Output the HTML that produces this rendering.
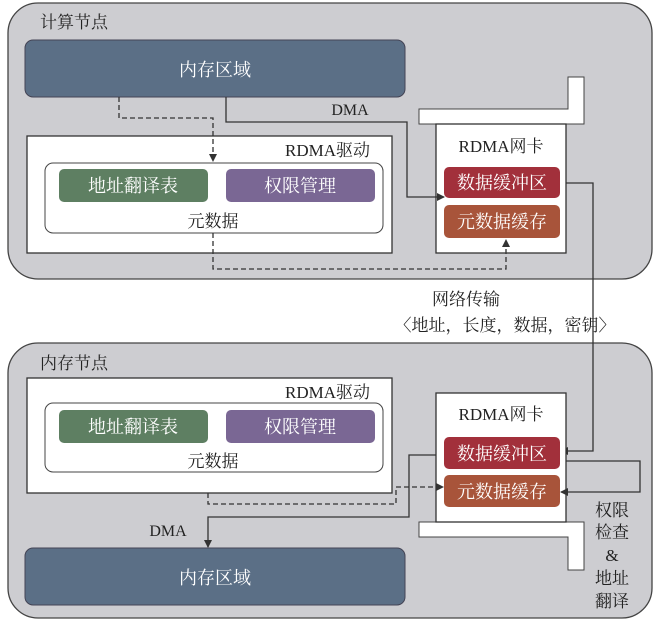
<!DOCTYPE html>
<html><head><meta charset="utf-8"><style>
body{margin:0;background:#fff}
svg text{font-family:"Liberation Serif","Noto Serif CJK SC",serif}
</style></head><body>
<svg width="654" height="621" viewBox="0 0 654 621" xmlns="http://www.w3.org/2000/svg">
<defs><marker id="a" markerWidth="8" markerHeight="8" refX="7" refY="4" orient="auto" markerUnits="userSpaceOnUse"><path d="M0,0 L8,4 L0,8 z" fill="#333"/></marker></defs>
<g stroke="#444" stroke-width="1.3">
<rect x="8" y="3" width="644" height="276" rx="30" fill="#cdcdd1"/>
<rect x="8" y="343" width="644" height="275" rx="30" fill="#cdcdd1"/>
</g>
<g font-size="17" fill="#222">
<text x="40" y="28">计算节点</text>
<text x="40" y="369">内存节点</text>
</g>
<!-- top -->
<rect x="25" y="40" width="380" height="57" rx="8" fill="#5b6f86" stroke="#445"/>
<text x="215" y="76" font-size="18" fill="#fff" text-anchor="middle" font-family="Liberation Sans,Noto Sans CJK SC,sans-serif">内存区域</text>
<rect x="27" y="136" width="365" height="117" fill="#fff" stroke="#333" stroke-width="1.3"/>
<text x="370" y="156" font-size="17" fill="#222" text-anchor="end">RDMA驱动</text>
<rect x="45" y="163" width="338" height="70" rx="8" fill="#fff" stroke="#444"/>
<rect x="59" y="169" width="149" height="33" rx="5" fill="#5e7f62"/>
<rect x="226" y="169" width="149" height="33" rx="5" fill="#7a6794"/>
<g font-size="18" fill="#fff" text-anchor="middle" font-family="Liberation Sans,Noto Sans CJK SC,sans-serif">
<text x="133" y="192">地址翻译表</text><text x="300" y="192">权限管理</text></g>
<text x="213" y="227" font-size="17" fill="#222" text-anchor="middle">元数据</text>
<!-- top NIC -->
<path d="M419,109 H568 V77 H584 V124 H419 Z" fill="#fff" stroke="#444"/>
<rect x="436" y="124" width="130" height="129" fill="#fff" stroke="#333" stroke-width="1.3"/>
<text x="501" y="152" font-size="17" fill="#222" text-anchor="middle">RDMA网卡</text>
<rect x="444" y="167" width="116" height="31" rx="5" fill="#a2303b"/>
<rect x="444" y="205" width="116" height="33" rx="5" fill="#a8543a"/>
<g font-size="18" fill="#fff" text-anchor="middle" font-family="Liberation Sans,Noto Sans CJK SC,sans-serif">
<text x="502" y="189">数据缓冲区</text><text x="502" y="228">元数据缓存</text></g>
<g fill="none" stroke="#333" stroke-width="1.3">
<path d="M226,97 V122 H407 V197 H444" marker-end="url(#a)"/>
<path d="M119,97 V118 H213 V161" stroke-dasharray="5,3" marker-end="url(#a)"/>
<path d="M213,233 V269 H506 V240" stroke-dasharray="5,3" marker-end="url(#a)"/>
<path d="M566,183 H593 V451 H561" marker-end="url(#a)"/>
</g>
<text x="350" y="115" font-size="16" fill="#222" text-anchor="middle">DMA</text>
<g font-size="17" fill="#222" text-anchor="middle">
<text x="466" y="305">网络传输</text>
<text x="505" y="331">〈地址，长度，数据，密钥〉</text></g>
<!-- bottom -->
<rect x="27" y="378" width="365" height="115" fill="#fff" stroke="#333" stroke-width="1.3"/>
<text x="370" y="398" font-size="17" fill="#222" text-anchor="end">RDMA驱动</text>
<rect x="45" y="403" width="338" height="69" rx="8" fill="#fff" stroke="#444"/>
<rect x="59" y="410" width="149" height="33" rx="5" fill="#5e7f62"/>
<rect x="226" y="410" width="149" height="33" rx="5" fill="#7a6794"/>
<g font-size="18" fill="#fff" text-anchor="middle" font-family="Liberation Sans,Noto Sans CJK SC,sans-serif">
<text x="133" y="433">地址翻译表</text><text x="300" y="433">权限管理</text></g>
<text x="213" y="467" font-size="17" fill="#222" text-anchor="middle">元数据</text>
<path d="M419,522 H584 V570 H568 V537 H419 Z" fill="#fff" stroke="#444"/>
<rect x="436" y="393" width="130" height="129" fill="#fff" stroke="#333" stroke-width="1.3"/>
<text x="501" y="420" font-size="17" fill="#222" text-anchor="middle">RDMA网卡</text>
<rect x="444" y="437" width="116" height="32" rx="5" fill="#a2303b"/>
<rect x="444" y="475" width="116" height="32" rx="5" fill="#a8543a"/>
<g font-size="18" fill="#fff" text-anchor="middle" font-family="Liberation Sans,Noto Sans CJK SC,sans-serif">
<text x="502" y="460">数据缓冲区</text><text x="502" y="498">元数据缓存</text></g>
<rect x="25" y="548" width="380" height="57" rx="8" fill="#5b6f86" stroke="#445"/>
<text x="215" y="584" font-size="18" fill="#fff" text-anchor="middle" font-family="Liberation Sans,Noto Sans CJK SC,sans-serif">内存区域</text>
<g fill="none" stroke="#333" stroke-width="1.3">
<path d="M566,461 H640 V492 H561" marker-end="url(#a)"/>
<path d="M436,455 H409 V517 H208 V547" marker-end="url(#a)"/>
<path d="M208,493 V504 H396 V487 H443" stroke-dasharray="5,3" marker-end="url(#a)"/>
</g>
<text x="168" y="536" font-size="16" fill="#222" text-anchor="middle">DMA</text>
<g font-size="17" fill="#222" text-anchor="middle">
<text x="612" y="516">权限</text><text x="612" y="538">检查</text><text x="612" y="561">&amp;</text>
<text x="612" y="584">地址</text><text x="612" y="607">翻译</text></g>
</svg>
</body></html>
